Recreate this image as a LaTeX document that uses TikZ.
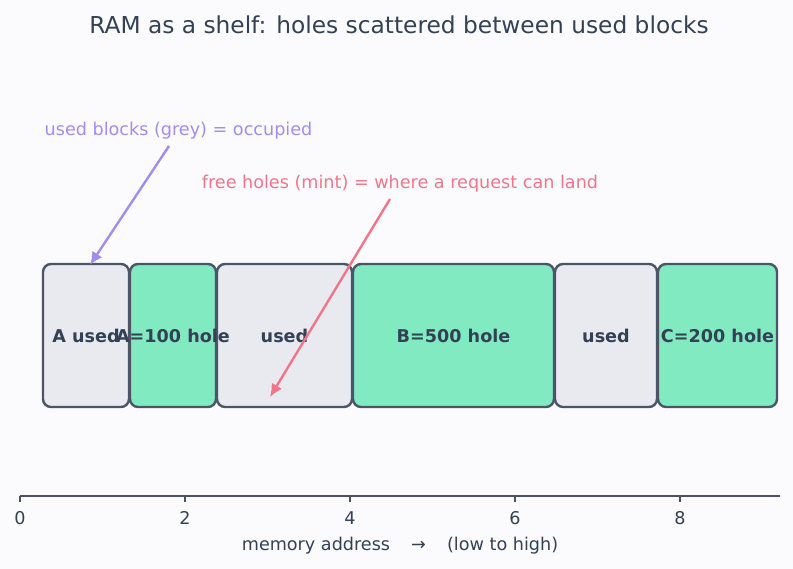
\documentclass[tikz,border=0pt]{standalone}
\usepackage{fontspec}
\setmainfont{DejaVu Sans}
\usepackage{tikz}
\usetikzlibrary{arrows.meta, positioning}

\definecolor{bgcol}{HTML}{FBFBFE}
\definecolor{ink}{HTML}{334155}
\definecolor{edgecol}{HTML}{4A5568}
\definecolor{greyfill}{HTML}{E8EAEF}
\definecolor{mintfill}{HTML}{82EAC1}
\definecolor{lilac}{HTML}{A38CF0}
\definecolor{rosy}{HTML}{F07589}
\definecolor{axiscol}{HTML}{4B5160}

\begin{document}
\begin{tikzpicture}[
  x=1pt, y=-1pt,
  blk/.style={rectangle, rounded corners=8pt, draw=edgecol, line width=2.4pt, minimum height=143pt, inner sep=0pt},
  usedblk/.style={blk, fill=greyfill},
  holeblk/.style={blk, fill=mintfill},
  blklbl/.style={font=\fontsize{17.6}{20}\selectfont\bfseries, text=ink, inner sep=0pt},
  note/.style={font=\fontsize{17.6}{20}\selectfont, inner sep=0pt},
  -{Latex[length=13pt, width=12pt]}, line width=2.4pt
]
  \path[use as bounding box, fill=bgcol] (0,0) rectangle (793,569);

  \node[text=ink, font=\fontsize{23.3}{26}\selectfont, inner sep=0pt] (title) at (399,25) {RAM as a shelf: holes scattered between used blocks};

  \node[usedblk, minimum width=86pt] (Aused) at (86,335.5) {};
  \node[holeblk, minimum width=86pt] (Ahole) at (173,335.5) {};
  \node[usedblk, minimum width=135pt] (used1) at (284.5,335.5) {};
  \node[holeblk, minimum width=201pt] (Bhole) at (453.5,335.5) {};
  \node[usedblk, minimum width=102pt] (used2) at (606,335.5) {};
  \node[holeblk, minimum width=119pt] (Chole) at (717.5,335.5) {};

  \node[blklbl] (Ausedlbl) at (Aused) {A used};
  \node[blklbl] (Aholelbl) at (Ahole) {A=100 hole};
  \node[blklbl] (used1lbl) at (used1) {used};
  \node[blklbl] (Bholelbl) at (Bhole) {B=500 hole};
  \node[blklbl] (used2lbl) at (used2) {used};
  \node[blklbl] (Cholelbl) at (Chole) {C=200 hole};

  \node[note, text=lilac] (usednote) at (178.5,131) {used blocks (grey) = occupied};
  \node[note, text=rosy] (holenote) at (400,184) {free holes (mint) = where a request can land};

  \coordinate (usedfrom) at (169,146);
  \coordinate (usedto) at (90,265);
  \coordinate (holefrom) at (390,199);
  \coordinate (holeto) at (270,397);
  \draw[lilac] (usedfrom) -- (usedto);
  \draw[rosy] (holefrom) -- (holeto);

  \draw[-, axiscol, line width=1.4pt] (20,496) coordinate (axisL) -- (780,496) coordinate (axisR);
  \foreach \v in {0,2,4,6,8}
    \draw[-, axiscol, line width=1.2pt] (20+82.5*\v,496) -- ++(0,6)
      node[below=9pt, text=ink, font=\fontsize{17.6}{20}\selectfont, inner sep=0pt] (tick\v) {\v};
  \node[text=ink, font=\fontsize{17.6}{20}\selectfont, inner sep=0pt] (xlabel) at (400,546) {memory address\hspace{1.2em}→\hspace{1.2em}(low to high)};
\end{tikzpicture}
\end{document}
